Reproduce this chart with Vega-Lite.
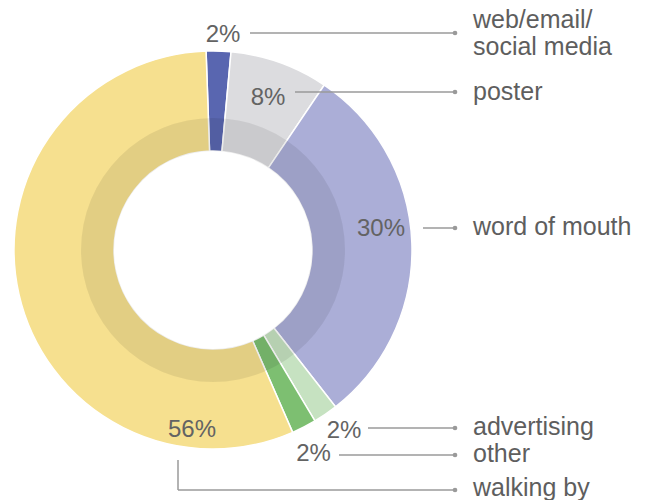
{
  "$schema": "https://vega.github.io/schema/vega-lite/v6.json",
  "width": 426,
  "height": 500,
  "padding": 0,
  "background": "white",
  "config": {"view": {"stroke": null}},
  "datasets": {
    "slices": [
      {"category": "web/email/social media", "share": 2, "seq": 1},
      {"category": "poster", "share": 8, "seq": 2},
      {"category": "word of mouth", "share": 30, "seq": 3},
      {"category": "advertising", "share": 2, "seq": 4},
      {"category": "other", "share": 2, "seq": 5},
      {"category": "walking by", "share": 56, "seq": 6}
    ],
    "callouts": [
      {"name": "web/email/\nsocial media", "pct": "2%", "pctX": 0.05, "pctY": 1.075, "lineFrom": 0.185, "lineY": 1.085, "nameY": 1.152},
      {"name": "poster", "pct": "8%", "pctX": 0.275, "pctY": 0.76, "lineFrom": 0.41, "lineY": 0.79, "nameY": 0.79},
      {"name": "word of mouth", "pct": "30%", "pctX": 0.84, "pctY": 0.105, "lineFrom": 1.05, "lineY": 0.11, "nameY": 0.115},
      {"name": "advertising", "pct": "2%", "pctX": 0.655, "pctY": -0.905, "lineFrom": 0.775, "lineY": -0.89, "nameY": -0.887},
      {"name": "other", "pct": "2%", "pctX": 0.5025, "pctY": -1.02, "lineFrom": 0.63, "lineY": -1.025, "nameY": -1.022},
      {"name": "walking by", "pct": "56%", "pctX": -0.105, "pctY": -0.9, "lineFrom": -0.175, "lineY": -1.2, "nameY": -1.19}
    ],
    "elbow": [
      {"x": -0.175, "yTop": -1.05, "yBottom": -1.2}
    ],
    "ring": [
      {"part": "inner shade"}
    ]
  },
  "layer": [
    {
      "data": {"name": "slices"},
      "mark": {"type": "arc", "outerRadius": 199, "innerRadius": 99, "stroke": "#ffffff", "strokeWidth": 1.5},
      "encoding": {
        "theta": {"field": "share", "type": "quantitative", "stack": true, "scale": {"range": [-0.0349, 6.2483]}},
        "order": {"field": "seq", "type": "quantitative"},
        "color": {
          "field": "category",
          "type": "nominal",
          "scale": {
            "domain": ["web/email/social media", "poster", "word of mouth", "advertising", "other", "walking by"],
            "range": ["#5966b0", "#dcdcdf", "#abaed7", "#c6e2c1", "#7dbf71", "#f6e08f"]
          },
          "legend": null
        }
      }
    },
    {
      "data": {"name": "ring"},
      "mark": {"type": "arc", "outerRadius": 132, "innerRadius": 99, "fill": "#000000", "fillOpacity": 0.08, "strokeWidth": 0},
      "encoding": {}
    },
    {
      "data": {"name": "callouts"},
      "mark": {"type": "rule", "color": "#9a9a9a", "strokeWidth": 1.5},
      "encoding": {
        "x": {"field": "lineFrom", "type": "quantitative", "scale": {"domain": [-1.065, 1.065], "nice": false, "zero": false}, "axis": null},
        "x2": {"datum": 1.21},
        "y": {"field": "lineY", "type": "quantitative", "scale": {"domain": [-1.25, 1.25], "nice": false, "zero": false}, "axis": null}
      }
    },
    {
      "data": {"name": "elbow"},
      "mark": {"type": "rule", "color": "#9a9a9a", "strokeWidth": 1.5},
      "encoding": {
        "x": {"field": "x", "type": "quantitative", "scale": {"domain": [-1.065, 1.065], "nice": false, "zero": false}, "axis": null},
        "y": {"field": "yTop", "type": "quantitative", "scale": {"domain": [-1.25, 1.25], "nice": false, "zero": false}, "axis": null},
        "y2": {"field": "yBottom"}
      }
    },
    {
      "data": {"name": "callouts"},
      "mark": {"type": "circle", "color": "#9a9a9a", "opacity": 1, "size": 22},
      "encoding": {
        "x": {"datum": 1.21, "type": "quantitative", "scale": {"domain": [-1.065, 1.065], "nice": false, "zero": false}, "axis": null},
        "y": {"field": "lineY", "type": "quantitative", "scale": {"domain": [-1.25, 1.25], "nice": false, "zero": false}, "axis": null}
      }
    },
    {
      "data": {"name": "callouts"},
      "mark": {"type": "text", "font": "Liberation Sans", "fontSize": 24, "color": "#636363", "align": "center", "baseline": "middle"},
      "encoding": {
        "x": {"field": "pctX", "type": "quantitative", "scale": {"domain": [-1.065, 1.065], "nice": false, "zero": false}, "axis": null},
        "y": {"field": "pctY", "type": "quantitative", "scale": {"domain": [-1.25, 1.25], "nice": false, "zero": false}, "axis": null},
        "text": {"field": "pct", "type": "nominal"}
      }
    },
    {
      "data": {"name": "callouts"},
      "mark": {"type": "text", "font": "Liberation Sans", "fontSize": 25, "color": "#5e5e5e", "align": "left", "baseline": "middle", "lineBreak": "\n", "lineHeight": 27},
      "encoding": {
        "x": {"datum": 1.3, "type": "quantitative", "scale": {"domain": [-1.065, 1.065], "nice": false, "zero": false}, "axis": null},
        "y": {"field": "nameY", "type": "quantitative", "scale": {"domain": [-1.25, 1.25], "nice": false, "zero": false}, "axis": null},
        "text": {"field": "name", "type": "nominal"}
      }
    }
  ]
}
